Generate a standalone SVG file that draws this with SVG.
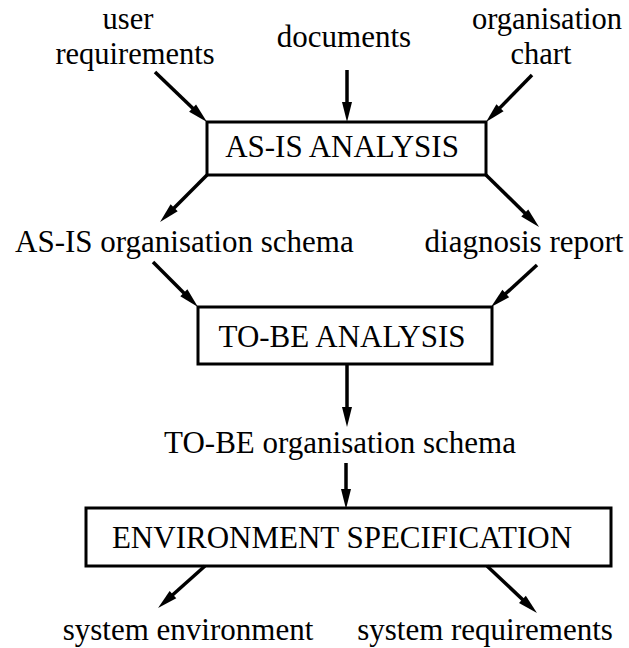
<svg xmlns="http://www.w3.org/2000/svg" width="629" height="648" viewBox="0 0 629 648">
  <style>
    text { font-family: "Liberation Serif", "Times New Roman", serif; font-size: 31px; fill: #000; }
    .two { font-size: 30.5px; }
    .box { fill: #fff; stroke: #000; stroke-width: 3; }
    .conn { stroke: #000; stroke-width: 3.5; fill: none; marker-end: url(#ah); }
  </style>
  <defs>
    <marker id="ah" markerUnits="userSpaceOnUse" markerWidth="20" markerHeight="10" refX="10" refY="5" orient="auto" overflow="visible">
      <path d="M0,0 L20,5 L0,10 Z" fill="#000"/>
    </marker>
  </defs>
  <rect width="629" height="648" fill="#fff"/>

  <g id="in-user-requirements">
    <text class="two" x="128" y="29" text-anchor="middle">user</text>
    <text class="two" x="135" y="64" text-anchor="middle">requirements</text>
  </g>
  <g id="in-documents">
    <text x="344" y="47" text-anchor="middle">documents</text>
  </g>
  <g id="in-organisation-chart">
    <text class="two" x="547" y="29" text-anchor="middle">organisation</text>
    <text class="two" x="541" y="64" text-anchor="middle">chart</text>
  </g>

  <g id="as-is-analysis">
    <rect class="box" x="207" y="122" width="279" height="53"/>
    <text x="342" y="157" text-anchor="middle">AS-IS ANALYSIS</text>
  </g>

  <g id="as-is-schema">
    <text x="15" y="252">AS-IS organisation schema</text>
  </g>
  <g id="diagnosis-report">
    <text x="524" y="252" text-anchor="middle">diagnosis report</text>
  </g>

  <g id="to-be-analysis">
    <rect class="box" x="198" y="307" width="294" height="57"/>
    <text x="342" y="347" text-anchor="middle">TO-BE ANALYSIS</text>
  </g>

  <g id="to-be-schema">
    <text x="340" y="453" text-anchor="middle">TO-BE organisation schema</text>
  </g>

  <g id="environment-specification">
    <rect class="box" x="86" y="508" width="525" height="58"/>
    <text x="342" y="548" text-anchor="middle">ENVIRONMENT SPECIFICATION</text>
  </g>

  <g id="system-environment">
    <text x="188" y="640" text-anchor="middle">system environment</text>
  </g>
  <g id="system-requirements">
    <text x="485" y="640" text-anchor="middle">system requirements</text>
  </g>

  <g id="connectors">
    <line class="conn" x1="155" y1="72" x2="199.8" y2="115.1"/>
    <line class="conn" x1="347" y1="70" x2="347" y2="112"/>
    <line class="conn" x1="532" y1="75" x2="493" y2="114.9"/>
    <line class="conn" x1="207" y1="175" x2="167.1" y2="214.9"/>
    <line class="conn" x1="486" y1="175" x2="531.9" y2="220"/>
    <line class="conn" x1="153" y1="262" x2="190.9" y2="299.9"/>
    <line class="conn" x1="537" y1="265" x2="498.4" y2="300.3"/>
    <line class="conn" x1="347" y1="364" x2="347" y2="417"/>
    <line class="conn" x1="346" y1="463" x2="346" y2="499"/>
    <line class="conn" x1="205" y1="566" x2="165.5" y2="601.3"/>
    <line class="conn" x1="487" y1="566" x2="529.7" y2="606.2"/>
  </g>
</svg>
